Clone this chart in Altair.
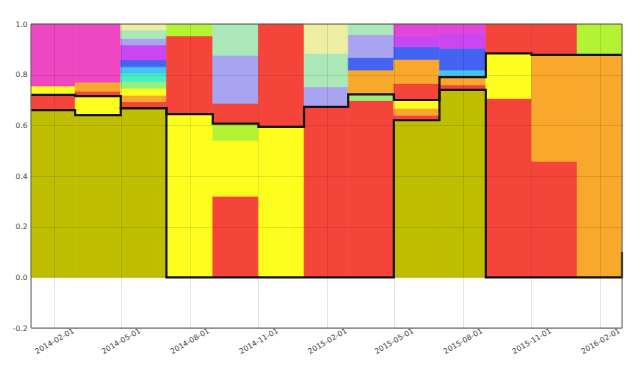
import altair as alt
import pandas as pd

# ---------------- data ----------------
period_starts = ["2014-01-01", "2014-03-01", "2014-05-01", "2014-07-01", "2014-09-01",
                 "2014-11-01", "2015-01-01", "2015-03-01", "2015-05-01", "2015-07-01",
                 "2015-09-01", "2015-11-01", "2016-01-01"]
period_end = "2016-03-01"

# shares per period, bottom to top: (category, share)
p2014_01 = [("olive", 0.66), ("red", 0.06), ("yellow", 0.035), ("pink", 0.245)]
p2014_03 = [("olive", 0.64), ("yellow", 0.075), ("red", 0.02), ("orange", 0.035), ("pink", 0.23)]
p2014_05 = [("olive", 0.668), ("red", 0.025), ("orange", 0.026), ("yellow", 0.027),
            ("green", 0.026), ("aqua", 0.033), ("lightblue", 0.026), ("blue", 0.027),
            ("violet", 0.059), ("lavender", 0.026), ("palegreen", 0.033), ("paleyellow", 0.024)]
p2014_07 = [("yellow", 0.644), ("red", 0.309), ("lime", 0.047)]
p2014_09 = [("red", 0.32), ("yellow", 0.22), ("lime", 0.067), ("red", 0.08),
            ("lavender", 0.19), ("palegreen", 0.123)]
p2014_11 = [("yellow", 0.594), ("red", 0.406)]
p2015_01 = [("red", 0.673), ("lavender", 0.079), ("palegreen", 0.132), ("paleyellow", 0.116)]
p2015_03 = [("red", 0.698), ("green", 0.022), ("orange", 0.098), ("blue", 0.05),
            ("lavender", 0.09), ("palegreen", 0.042)]
p2015_05 = [("olive", 0.62), ("red", 0.02), ("orange", 0.027), ("yellow", 0.033),
            ("red", 0.065), ("orange", 0.095), ("blue", 0.05), ("violet", 0.045),
            ("magenta", 0.045)]
p2015_07 = [("olive", 0.74), ("red", 0.02), ("orange", 0.03), ("lightblue", 0.028),
            ("blue", 0.086), ("violet", 0.059), ("magenta", 0.037)]
p2015_09 = [("red", 0.706), ("yellow", 0.178), ("red", 0.116)]
p2015_11 = [("red", 0.458), ("orange", 0.42), ("red", 0.122)]
p2016_01 = [("orange", 0.878), ("lime", 0.122)]

periods = [p2014_01, p2014_03, p2014_05, p2014_07, p2014_09, p2014_11, p2015_01,
           p2015_03, p2015_05, p2015_07, p2015_09, p2015_11, p2016_01]

# black step lines (value per period, plus the value at the closing date)
line_upper = [0.72, 0.715, 0.668, 0.644, 0.607, 0.594, 0.673, 0.722, 0.70, 0.79, 0.884, 0.878, 0.878]
line_upper_end = 0.878
line_lower = [0.66, 0.64, 0.668, 0.0, 0.0, 0.0, 0.0, 0.0, 0.62, 0.74, 0.0, 0.0, 0.0]
line_lower_end = 0.1

x_ticks = ["2014-02-01", "2014-05-01", "2014-08-01", "2014-11-01", "2015-02-01",
           "2015-05-01", "2015-08-01", "2015-11-01", "2016-02-01"]
y_ticks = [-0.2, 0.0, 0.2, 0.4, 0.6, 0.8, 1.0]

palette = {
    "olive": "#bebd00", "red": "#f5443a", "yellow": "#fdfd1e", "orange": "#f8a82b",
    "pink": "#ef46c2", "magenta": "#e445d8", "violet": "#c946f0", "blue": "#4563f2",
    "lightblue": "#45c3f2", "aqua": "#46f0c4", "green": "#96f07c", "lime": "#b3f334",
    "palegreen": "#abe8b8", "lavender": "#a8a4f0", "paleyellow": "#eeeea3",
}

# ---------------- tables ----------------
ends = period_starts[1:] + [period_end]
rows = []
for start, end, segs in zip(period_starts, ends, periods):
    acc = 0.0
    for cat, share in segs:
        rows.append({"start": start, "end": end, "y0": acc, "y1": acc + share,
                     "color": palette[cat]})
        acc += share
bars_df = pd.DataFrame(rows)

line_rows = []
for name, vals, last in [("upper", line_upper, line_upper_end), ("lower", line_lower, line_lower_end)]:
    for d, v in zip(period_starts + [period_end], vals + [last]):
        line_rows.append({"date": d, "value": v, "series": name})
lines_df = pd.DataFrame(line_rows)

W, H = 591, 304


def dt(s):
    y, m, d = (int(p) for p in s.split("-"))
    return alt.DateTime(year=y, month=m, date=d, utc=True)


xscale = alt.Scale(type="utc", domain=[dt(period_starts[0]), dt(period_end)], nice=False)
yscale = alt.Scale(domain=[-0.2, 1.0], nice=False, zero=False)

xaxis = alt.Axis(values=[dt(t) for t in x_ticks], labelExpr="utcFormat(datum.value, '%Y-%m-%d')",
                 labelAngle=-30, labelAlign="center", labelBaseline="middle", labelPadding=13,
                 ticks=False, domain=False, grid=True, gridColor="#000000", gridOpacity=0.1,
                 labelFontSize=7.5, labelColor="#444444", labelFont="DejaVu Sans", zindex=1,
                 title=None)
yaxis = alt.Axis(values=y_ticks,
                 labelExpr="datum.value < 0 ? '-' + format(-datum.value, '.1f') : format(datum.value, '.1f')",
                 ticks=False, domain=False, grid=True, gridColor="#000000", gridOpacity=0.1,
                 labelFontSize=7.5, labelColor="#444444", labelFont="DejaVu Sans", labelPadding=4,
                 zindex=1, title=None)

bars = alt.Chart(bars_df).mark_rect(strokeWidth=0.6).encode(
    x=alt.X("start:T", scale=xscale, axis=xaxis),
    x2="end:T",
    y=alt.Y("y0:Q", scale=yscale, axis=yaxis),
    y2="y1:Q",
    color=alt.Color("color:N", scale=None),
    stroke=alt.Stroke("color:N", scale=None),
)

lines = alt.Chart(lines_df).mark_line(interpolate="step-after", color="#151515",
                                      strokeWidth=2.2).encode(
    x=alt.X("date:T", scale=xscale),
    y=alt.Y("value:Q", scale=yscale),
    detail="series:N",
)

frame = alt.Chart(pd.DataFrame({"k": [0]})).mark_rect(
    fillOpacity=0, stroke="#666666", strokeWidth=1).encode(
    x=alt.value(0), x2=alt.value(W), y=alt.value(0), y2=alt.value(H))

chart = alt.layer(bars, lines, frame).properties(
    width=W, height=H,
    padding={"left": 31, "top": 24, "right": 18, "bottom": 50},
    autosize=alt.AutoSizeParams(type="none"),
).configure_view(stroke=None).configure(font="DejaVu Sans")

chart.save("out.html", embed_options={"renderer": "svg", "actions": False})
